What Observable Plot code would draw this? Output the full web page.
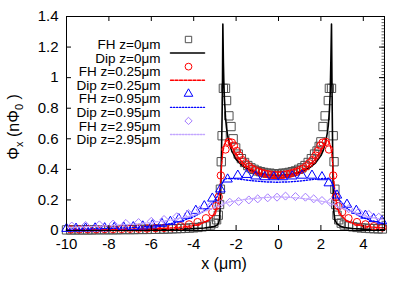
<!DOCTYPE html>
<html>
<head>
<meta charset="utf-8">
<script src="https://cdn.jsdelivr.net/npm/d3@7"></script>
<script src="https://cdn.jsdelivr.net/npm/@observablehq/plot@0.6"></script>
<style>
  html, body { margin: 0; padding: 0; background: #fff; }
  svg { font-family: "Liberation Sans", Arial, sans-serif; }
</style>
</head>
<body>
<div id="chart"></div>
<script>
// ---- data ----
const xTicks = [-10, -8, -6, -4, -2, 0, 2, 4];
const yTicks = [0, 0.2, 0.4, 0.6, 0.8, 1, 1.2, 1.4];

const seriesLabels = ["FH z=0\u03bcm", "Dip z=0\u03bcm", "FH z=0.25\u03bcm", "Dip z=0.25\u03bcm",
                      "FH z=0.95\u03bcm", "Dip z=0.95\u03bcm", "FH z=2.95\u03bcm", "Dip z=2.95\u03bcm"];

const fh0 = [[-10,0.004],[-9.8,0.004],[-9.6,0.004],[-9.4,0.004],[-9.2,0.004],[-9,0.004],[-8.8,0.004],[-8.6,0.005],[-8.4,0.005],[-8.2,0.005],[-8,0.005],[-7.8,0.005],[-7.6,0.005],[-7.4,0.006],[-7.2,0.006],[-7,0.006],[-6.8,0.006],[-6.6,0.007],[-6.4,0.007],[-6.2,0.007],[-6,0.008],[-5.8,0.008],[-5.6,0.009],[-5.4,0.009],[-5.2,0.01],[-5,0.011],[-4.8,0.012],[-4.6,0.013],[-4.4,0.014],[-4.2,0.016],[-4,0.018],[-3.8,0.02],[-3.6,0.024],[-3.4,0.029],[-3.2,0.036],[-3.05,0.048],[-2.92,0.07],[-2.84,0.1],[-2.78,0.17],[-2.74,0.27],[-2.7,0.45],[-2.66,0.62],[-2.6,0.93],[-2.5,0.93],[-2.45,0.85],[-2.34,0.75],[-2.24,0.68],[-2.14,0.6],[-2.02,0.54],[-1.9,0.5],[-1.75,0.47],[-1.6,0.445],[-1.45,0.425],[-1.3,0.41],[-1.15,0.4],[-1.0,0.39],[-0.85,0.385],[-0.7,0.38],[-0.55,0.375],[-0.4,0.375],[-0.25,0.37],[-0.1,0.37],[0.05,0.37],[0.2,0.375],[0.35,0.375],[0.5,0.38],[0.65,0.385],[0.8,0.39],[0.95,0.4],[1.1,0.41],[1.25,0.425],[1.4,0.445],[1.55,0.47],[1.7,0.5],[1.82,0.52],[1.92,0.55],[2.0,0.58],[2.1,0.68],[2.2,0.75],[2.35,0.85],[2.4,0.93],[2.5,0.93],[2.58,0.62],[2.62,0.45],[2.66,0.27],[2.7,0.17],[2.76,0.1],[2.84,0.07],[2.96,0.048],[3.1,0.036],[3.3,0.029],[3.5,0.024],[3.7,0.02],[3.9,0.017],[4.1,0.015],[4.3,0.013],[4.5,0.012],[4.7,0.011],[4.9,0.01]];

const dip0 = [[-10,0.002],[-9,0.002],[-8,0.003],[-7,0.004],[-6,0.005],[-5,0.007],[-4.5,0.009],[-4,0.012],[-3.5,0.016],[-3.2,0.022],[-3,0.028],[-2.9,0.035],[-2.82,0.05],[-2.78,0.08],[-2.75,0.15],[-2.72,0.3],[-2.69,0.5],[-2.66,0.75],[-2.64,1.0],[-2.625,1.35],[-2.6,1.1],[-2.58,0.98],[-2.55,0.86],[-2.5,0.74],[-2.45,0.67],[-2.4,0.62],[-2.3,0.56],[-2.2,0.52],[-2.0,0.465],[-1.75,0.43],[-1.5,0.405],[-1.0,0.377],[-0.5,0.363],[0,0.36],[0.5,0.365],[1.0,0.381],[1.5,0.414],[1.75,0.443],[2.0,0.49],[2.1,0.52],[2.2,0.567],[2.3,0.636],[2.35,0.69],[2.4,0.78],[2.44,0.9],[2.47,1.11],[2.5,1.35],[2.52,1.0],[2.54,0.7],[2.56,0.45],[2.58,0.25],[2.61,0.12],[2.66,0.07],[2.75,0.045],[2.9,0.03],[3.1,0.02],[3.5,0.013],[4,0.009],[4.5,0.006],[5,0.005]];

const fh025 = [[-9.8,0.007],[-9.4,0.007],[-9,0.008],[-8.6,0.008],[-8.2,0.009],[-7.8,0.009],[-7.4,0.01],[-7,0.011],[-6.6,0.012],[-6.2,0.013],[-5.8,0.015],[-5.4,0.017],[-5.02,0.02],[-4.62,0.028],[-4.22,0.04],[-3.82,0.055],[-3.42,0.08],[-3.12,0.12],[-2.94,0.16],[-2.82,0.22],[-2.72,0.36],[-2.5,0.53],[-2.35,0.58],[-2.2,0.575],[-2.1,0.555],[-1.97,0.52],[-1.85,0.49],[-1.7,0.46],[-1.55,0.44],[-1.4,0.42],[-1.25,0.405],[-1.1,0.395],[-0.95,0.385],[-0.8,0.378],[-0.65,0.372],[-0.5,0.368],[-0.35,0.365],[-0.2,0.363],[-0.05,0.362],[0.1,0.363],[0.25,0.365],[0.4,0.368],[0.55,0.372],[0.7,0.378],[0.85,0.385],[1.0,0.395],[1.15,0.405],[1.3,0.42],[1.45,0.44],[1.6,0.46],[1.75,0.49],[1.85,0.52],[1.98,0.555],[2.08,0.575],[2.23,0.58],[2.38,0.53],[2.58,0.36],[2.7,0.22],[2.82,0.16],[3.0,0.12],[3.3,0.08],[3.7,0.055],[4.1,0.04],[4.5,0.028],[4.9,0.02]];

const dip025 = [[-10,0.004],[-9,0.005],[-8,0.006],[-7,0.008],[-6,0.011],[-5,0.017],[-4.5,0.023],[-4,0.033],[-3.6,0.047],[-3.3,0.068],[-3.1,0.095],[-2.95,0.13],[-2.85,0.18],[-2.78,0.25],[-2.73,0.33],[-2.68,0.43],[-2.63,0.51],[-2.56,0.56],[-2.47,0.585],[-2.4,0.59],[-2.3,0.575],[-2.2,0.55],[-2.05,0.51],[-1.8,0.46],[-1.5,0.42],[-1.0,0.38],[-0.5,0.36],[-0.06,0.355],[0.4,0.36],[0.9,0.38],[1.4,0.42],[1.7,0.46],[1.95,0.51],[2.1,0.55],[2.2,0.575],[2.28,0.59],[2.35,0.585],[2.44,0.56],[2.51,0.51],[2.56,0.43],[2.61,0.33],[2.66,0.25],[2.73,0.18],[2.83,0.13],[2.98,0.095],[3.18,0.068],[3.48,0.047],[3.88,0.033],[4.38,0.023],[5,0.016]];

const fh095 = [[-10,0.012],[-9.55,0.013],[-9.1,0.014],[-8.65,0.015],[-8.2,0.016],[-7.75,0.018],[-7.3,0.02],[-6.85,0.023],[-6.4,0.028],[-5.95,0.035],[-5.5,0.045],[-5.1,0.058],[-4.7,0.075],[-4.3,0.098],[-3.9,0.13],[-3.5,0.16],[-3.12,0.21],[-2.74,0.27],[-2.4,0.335],[-1.92,0.36],[-1.5,0.365],[-1.08,0.355],[-0.65,0.35],[-0.22,0.35],[0.2,0.35],[0.65,0.355],[1.11,0.36],[1.58,0.36],[2.05,0.35],[2.37,0.31],[2.76,0.23],[3.23,0.17],[3.67,0.13],[4.1,0.098],[4.49,0.076],[4.88,0.062]];

const dip095 = [[-10,0.008],[-9,0.01],[-8,0.013],[-7,0.018],[-6,0.027],[-5.5,0.035],[-5,0.047],[-4.5,0.065],[-4,0.09],[-3.6,0.12],[-3.3,0.15],[-3.05,0.19],[-2.9,0.22],[-2.78,0.26],[-2.68,0.3],[-2.58,0.33],[-2.45,0.34],[-2.2,0.34],[-1.8,0.335],[-1.2,0.325],[-0.6,0.318],[-0.06,0.316],[0.5,0.318],[1.1,0.325],[1.7,0.335],[2.1,0.34],[2.33,0.34],[2.46,0.33],[2.56,0.3],[2.66,0.26],[2.78,0.22],[2.93,0.19],[3.18,0.15],[3.48,0.12],[3.88,0.09],[4.38,0.065],[5,0.045]];

const fh295 = [[-9.75,0.029],[-9.1,0.033],[-8.45,0.037],[-7.8,0.042],[-7.2,0.046],[-6.6,0.052],[-6.0,0.06],[-5.4,0.072],[-4.8,0.09],[-4.25,0.11],[-3.7,0.135],[-3.2,0.16],[-2.74,0.175],[-2.3,0.185],[-1.88,0.19],[-1.4,0.2],[-0.98,0.207],[-0.51,0.214],[-0.07,0.218],[0.33,0.225],[0.8,0.222],[1.27,0.218],[1.66,0.207],[2.05,0.196],[2.45,0.185],[2.89,0.163],[3.31,0.142],[3.78,0.12],[4.26,0.105],[4.73,0.087]];

const dip295 = [[-10,0.02],[-9,0.025],[-8,0.032],[-7,0.04],[-6,0.052],[-5,0.07],[-4.5,0.085],[-4,0.1],[-3.5,0.125],[-3,0.15],[-2.7,0.17],[-2.4,0.185],[-2,0.195],[-1.5,0.205],[-1,0.212],[-0.5,0.217],[-0.06,0.22],[0.4,0.218],[0.9,0.213],[1.4,0.205],[1.9,0.195],[2.3,0.185],[2.6,0.17],[2.9,0.15],[3.4,0.125],[3.9,0.1],[4.4,0.085],[5,0.07]];

// ---- styling ----
const W = 407, H = 285;
const mL = 66, mR = 23, mT = 16, mB = 55;
const pw = W - mL - mR, ph = H - mT - mB;
const C = {
  sq: "#505050", k: "#000000", red: "#ff0000", blue: "#0000ff", purp: "#a47cff", purpL: "#c3a6ff"
};
const dash = { red: "3,1.5", blue: "1.3,1.7", purp: "1.6,1.4" };
const minorY = d3.range(0, 1.4001, 0.02);

const X = d => d[0], Y = d => d[1];

// legend helpers (pixel offsets from the plot frame's top-left)
const legRow = i => 23 + i * 13.57;
const legShape = { draw(ctx, l) { ctx.moveTo(0, 0); ctx.lineTo(0, -l); } };
const legText = i => Plot.text([seriesLabels[i]], {frameAnchor: "top-left", dx: 94, dy: legRow(i), textAnchor: "end", fontSize: 13.5, fill: "#000"});
const legDot = (i, sym, col, r) => Plot.dot([0], {frameAnchor: "top-left", dx: 122, dy: legRow(i), symbol: sym, stroke: col, r, strokeWidth: 1});
const legLine = (i, col, da, sw) => Plot.vector([0], {frameAnchor: "top-left", dx: 104, dy: legRow(i), rotate: 90, length: 34, anchor: "start", shape: legShape, stroke: col, strokeWidth: sw, strokeDasharray: da});

const chart = Plot.plot({
  width: W, height: H,
  marginLeft: mL, marginRight: mR, marginTop: mT, marginBottom: mB,
  x: {domain: [-10, 5], axis: null},
  y: {domain: [0, 1.4], axis: null},
  style: {fontFamily: "'Liberation Sans', Arial, sans-serif", background: "#fff"},
  marks: [
    // data series (gnuplot draw order)
    Plot.dot(fh0, {x: X, y: Y, symbol: "square", r: 4.7, stroke: C.sq, strokeWidth: 1}),
    Plot.line(dip0, {x: X, y: Y, stroke: C.k, strokeWidth: 1.6}),
    Plot.dot(fh025, {x: X, y: Y, symbol: "circle", r: 3.7, stroke: C.red, strokeWidth: 1}),
    Plot.line(dip025, {x: X, y: Y, stroke: C.red, strokeWidth: 1.4, strokeDasharray: dash.red}),
    Plot.dot(fh095, {x: X, y: Y, symbol: "triangle", r: 3.5, stroke: C.blue, strokeWidth: 1}),
    Plot.line(dip095, {x: X, y: Y, stroke: C.blue, strokeWidth: 1.4, strokeDasharray: dash.blue}),
    Plot.dot(fh295, {x: X, y: Y, symbol: "diamond2", r: 3.6, stroke: C.purp, strokeWidth: 1}),
    Plot.line(dip295, {x: X, y: Y, stroke: C.purpL, strokeWidth: 1.3, strokeDasharray: dash.purp}),

    // frame and inward ticks
    Plot.frame({stroke: "#000", strokeWidth: 1}),
    Plot.tickY(yTicks, {y: d => d, insetRight: pw - 5, stroke: "#000"}),
    Plot.tickY(yTicks, {y: d => d, insetLeft: pw - 5, stroke: "#000"}),
    Plot.tickY(minorY, {y: d => d, insetLeft: pw - 2.5, stroke: "#000", strokeWidth: 0.6}),
    Plot.tickX(xTicks, {x: d => d, insetTop: ph - 5, stroke: "#000"}),
    Plot.tickX(xTicks, {x: d => d, insetBottom: ph - 5, stroke: "#000"}),

    // tick labels
    Plot.axisX({anchor: "bottom", ticks: xTicks, tickSize: 0, tickPadding: 8, tickFormat: d => String(d), fontSize: 15, fill: "#000"}),
    Plot.axisY({anchor: "left", ticks: yTicks, tickSize: 0, tickPadding: 8, tickFormat: d => String(d), fontSize: 15, fill: "#000"}),

    // legend
    legText(0), legDot(0, "square", C.sq, 3.6),
    legText(1), legLine(1, C.k, null, 1.6),
    legText(2), legDot(2, "circle", C.red, 3.4),
    legText(3), legLine(3, C.red, dash.red, 1.4),
    legText(4), legDot(4, "triangle", C.blue, 3.2),
    legText(5), legLine(5, C.blue, dash.blue, 1.4),
    legText(6), legDot(6, "diamond2", C.purp, 3.3),
    legText(7), legLine(7, C.purpL, dash.purp, 1.3)
  ]
});

document.getElementById("chart").appendChild(chart);

// axis titles (with sub-scripts)
const svg = d3.select(chart);
svg.append("text")
  .attr("x", 224)
  .attr("y", 269)
  .attr("text-anchor", "middle")
  .attr("font-size", 16)
  .attr("fill", "#000")
  .text("x (\u03bcm)");

const yl = svg.append("text")
  .attr("transform", "translate(19,127) rotate(-90)")
  .attr("text-anchor", "middle")
  .attr("font-size", 16)
  .attr("fill", "#000");
yl.append("tspan").text("\u03a6");
yl.append("tspan").attr("font-size", 11).attr("dy", 4).text("x");
yl.append("tspan").attr("dy", -4).text(" (n\u03a6");
yl.append("tspan").attr("font-size", 11).attr("dy", 4).text("0");
yl.append("tspan").attr("dy", -4).text(" )");
</script>
</body>
</html>
